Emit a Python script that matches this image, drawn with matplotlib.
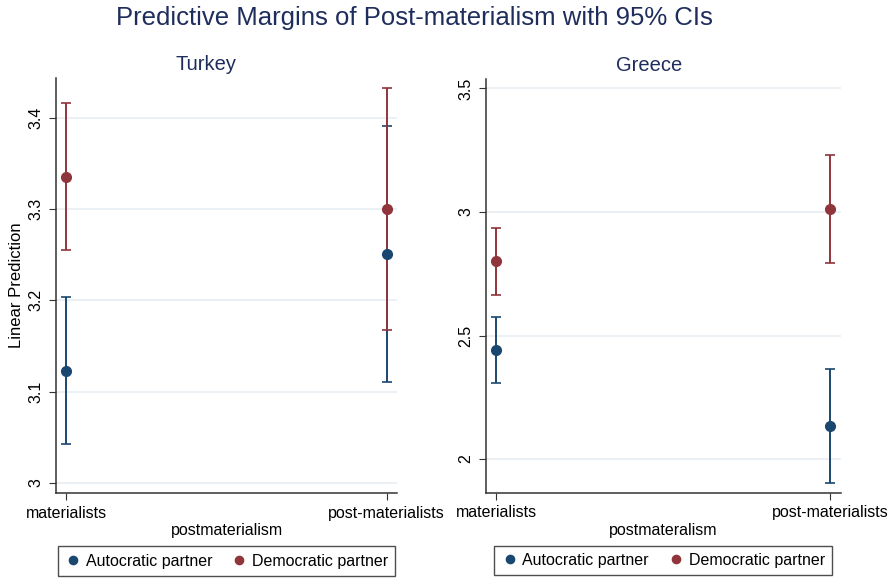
import matplotlib.pyplot as plt

plt.rcParams['font.family'] = ['Liberation Sans', 'DejaVu Sans']

# categories on x
groups = ['materialists', 'post-materialists']
series = ['Autocratic partner', 'Democratic partner']

# Turkey margins and 95% CIs (autocratic, democratic)
tr_auto = [3.123, 3.251]
tr_auto_lo = [3.043, 3.111]
tr_auto_hi = [3.204, 3.391]
tr_demo = [3.335, 3.300]
tr_demo_lo = [3.255, 3.167]
tr_demo_hi = [3.416, 3.432]

# Greece
gr_auto = [2.442, 2.134]
gr_auto_lo = [2.309, 1.903]
gr_auto_hi = [2.577, 2.364]
gr_demo = [2.800, 3.011]
gr_demo_lo = [2.663, 2.792]
gr_demo_hi = [2.937, 3.230]

NAVY = '#1a476f'
MAROON = '#90353b'
TITLE = '#1f2d5c'
GRID = '#e6eef1'


def panel(ax, title, title_x, auto, auto_lo, auto_hi, demo, demo_lo, demo_hi,
          yticks, ytl, ylim, xlabel, ylabel=None):
    x = list(range(len(groups)))
    # CIs first (blue under red), then points on top
    for vals, lo, hi, col in [(auto, auto_lo, auto_hi, NAVY),
                              (demo, demo_lo, demo_hi, MAROON)]:
        err = [[v - l for v, l in zip(vals, lo)], [h - v for v, h in zip(vals, hi)]]
        ax.errorbar(x, vals, yerr=err, fmt='none', ecolor=col, elinewidth=1.4,
                    capsize=3.5, capthick=1.2, zorder=2)
    ax.plot(x, auto, 'o', color=NAVY, ms=7, zorder=3, label=series[0])
    ax.plot(x, demo, 'o', color=MAROON, ms=7, zorder=3, label=series[1])

    ax.set_xlim(-0.032, 1.032)
    ax.set_ylim(*ylim)
    ax.set_xticks(x)
    ax.set_xticklabels(groups, fontsize=11.5)
    ax.set_yticks(yticks)
    ax.set_yticklabels(ytl, fontsize=11.5, rotation=90, va='center')
    ax.grid(axis='y', color=GRID, lw=1.2)
    ax.set_axisbelow(True)
    for s in ['top', 'right']:
        ax.spines[s].set_visible(False)
    for s in ['left', 'bottom']:
        ax.spines[s].set_color('#333333')
        ax.spines[s].set_linewidth(1.1)
    ax.tick_params(direction='out', length=5, color='#333333', pad=4)
    ax.set_title(title, fontsize=14.5, color=TITLE, pad=6, x=title_x)
    ax.set_xlabel(xlabel, fontsize=11.5, labelpad=2)
    if ylabel:
        ax.set_ylabel(ylabel, fontsize=12, labelpad=3)
    leg = ax.legend(loc='center', bbox_to_anchor=(0.5, -0.164), ncol=2,
                    fontsize=11.5, frameon=True, fancybox=False,
                    handletextpad=0.3, columnspacing=1.2, handlelength=1.0,
                    markerscale=0.85, borderpad=0.45)
    leg.get_frame().set_edgecolor('#222222')
    leg.get_frame().set_linewidth(1.0)


fig = plt.figure(figsize=(8.96, 5.79), dpi=100)
fig.suptitle('Predictive Margins of Post-materialism with 95% CIs',
             fontsize=18.5, color=TITLE, x=0.4625, y=0.99)

ax1 = fig.add_axes([0.0625, 0.1485, 0.3806, 0.7168])
panel(ax1, 'Turkey', 0.44, tr_auto, tr_auto_lo, tr_auto_hi, tr_demo, tr_demo_lo, tr_demo_hi,
      [3.0, 3.1, 3.2, 3.3, 3.4], ['3', '3.1', '3.2', '3.3', '3.4'], (2.989, 3.4435),
      'postmaterialism', ylabel='Linear Prediction')

ax2 = fig.add_axes([0.542, 0.149, 0.3965, 0.7145])
panel(ax2, 'Greece', 0.461, gr_auto, gr_auto_lo, gr_auto_hi, gr_demo, gr_demo_lo, gr_demo_hi,
      [2.0, 2.5, 3.0, 3.5], ['2', '2.5', '3', '3.5'], (1.864, 3.538),
      'postmateralism')

fig.savefig('out.png', dpi=100)
